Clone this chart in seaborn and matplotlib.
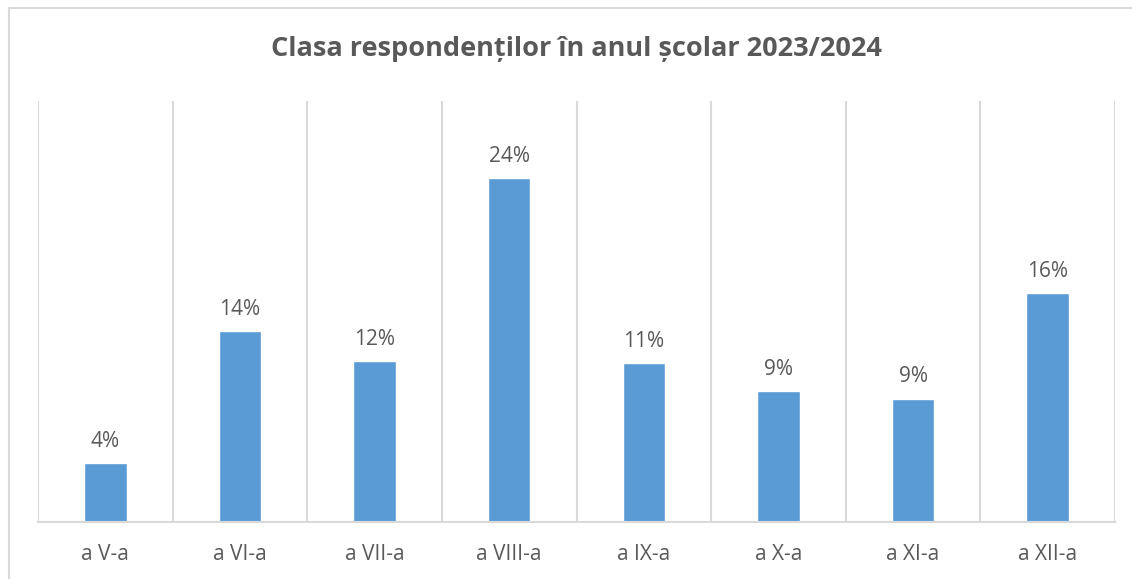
import matplotlib
matplotlib.use("Agg")
import matplotlib.pyplot as plt
import pandas as pd
import seaborn as sns
from matplotlib.patches import Rectangle


CLASSES = ["a V-a", "a VI-a", "a VII-a", "a VIII-a", "a IX-a", "a X-a", "a XI-a", "a XII-a"]
SHARES = [4.2, 13.6, 11.5, 24.5, 11.3, 9.3, 8.8, 16.3]
TITLE = "Clasa respondenților în anul școlar 2023/2024"

BAR_COLOR = "#5b9bd5"
TEXT_COLOR = "#595959"
GRID_COLOR = "#d9d9d9"

sns.set_theme(style="white")
plt.rcParams["font.family"] = ["Open Sans", "DejaVu Sans"]

df = pd.DataFrame({"clasa": CLASSES, "pct": SHARES})

fig = plt.figure(figsize=(11.32, 5.79), dpi=100)
ax = fig.add_axes([38 / 1132, 57 / 579, (1115 - 38) / 1132, (522 - 101) / 579])

sns.barplot(data=df, x="clasa", y="pct", color=BAR_COLOR, saturation=1, width=0.315, ax=ax)

ax.bar_label(ax.containers[0], labels=[f"{round(v):.0f}%" for v in SHARES],
             padding=8, fontsize=15, color=TEXT_COLOR)

ax.set_ylim(0, 30)
ax.set_xlim(-0.5, len(CLASSES) - 0.5)
ax.set_yticks([])
ax.set_xlabel("")
ax.set_ylabel("")
ax.set_xticks(range(len(CLASSES)))
ax.set_xticks([i + 0.5 for i in range(-1, len(CLASSES))], minor=True)
ax.grid(which="minor", axis="x", color=GRID_COLOR, linewidth=1.5)
ax.tick_params(axis="x", which="both", length=0, pad=16, labelsize=15, labelcolor=TEXT_COLOR)

for side in ["top", "left", "right"]:
    ax.spines[side].set_visible(False)
ax.spines["bottom"].set_color(GRID_COLOR)
ax.spines["bottom"].set_linewidth(1.5)

fig.text(576 / 1132, 1 - 49 / 579, TITLE, ha="center", va="center",
         fontsize=19.5, fontweight="bold", color=TEXT_COLOR)

fig.patches.append(Rectangle((9 / 1132, -0.1), 1.2, 1.1 - 8 / 579, transform=fig.transFigure,
                             fill=False, edgecolor=GRID_COLOR, linewidth=1.5))

fig.savefig("out.png", dpi=100)
